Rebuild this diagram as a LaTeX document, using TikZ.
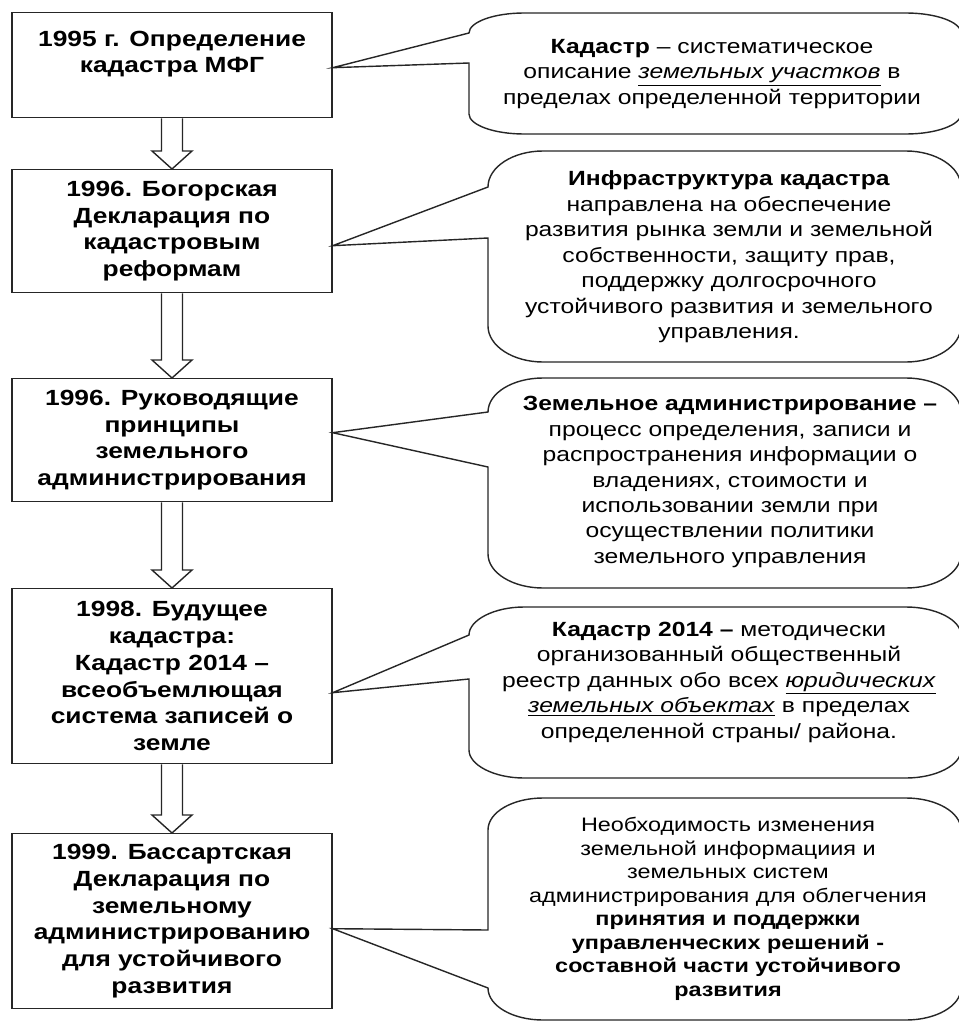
\documentclass[tikz,border=0pt]{standalone}
\usepackage{fontspec}
\setmainfont{Liberation Sans}[FakeStretch=1.2]
\usetikzlibrary{calc}

\tikzset{
  stage/.style={draw=black!85, line width=0.8pt, fill=white, minimum width=6.4cm,
    align=center, anchor=north, inner sep=2pt,
    font=\fontsize{12.5}{15.2}\selectfont\bfseries},
  bubble/.style={draw=black!85, line width=0.8pt, fill=white},
  note/.style={align=center, inner sep=0pt, font=\fontsize{11.7}{14.5}\selectfont},
  flow/.style={draw=black!85, line width=0.8pt, fill=white}
}

\begin{document}
\begin{tikzpicture}[x=0.02cm,y=-0.02cm]
\useasboundingbox (0,0) rectangle (959,1021);
\clip (0,0) rectangle (959,1021);

% stages
\node[stage, minimum height=2.1cm] (y1) at (172,12) {1995 г. Определение\\кадастра МФГ\\~};
\node[stage, minimum height=2.46cm] (y2) at (172,169) {1996. Богорская\\Декларация по\\кадастровым\\реформам};
\node[stage, minimum height=2.46cm] (y3) at (172,378) {1996. Руководящие\\принципы\\земельного\\администрирования};
\node[stage, minimum height=3.5cm] (y4) at (172,588) {1998. Будущее\\кадастра:\\Кадастр 2014 --\\всеобъемлющая\\система записей о\\земле};
\node[stage, minimum height=3.5cm] (y5) at (172,833) {1999. Бассартская\\Декларация по\\земельному\\администрированию\\для устойчивого\\развития};

% hollow arrows between stages
\foreach \a/\b in {y1/y2,y2/y3,y3/y4,y4/y5}
  \draw[flow] ($(\a.south)+(-10.5,0)$) -- ($(\b.north)+(-10.5,-18)$) -- ($(\b.north)+(-20,-18)$)
    -- (\b.north) -- ($(\b.north)+(20,-18)$) -- ($(\b.north)+(10.5,-18)$) -- ($(\a.south)+(10.5,0)$);

% callouts
\draw[bubble] (469,63) -- (469,114) .. controls (469,125) and (494,134) .. (524,134) -- (906,134)
  .. controls (936,134) and (961,125) .. (961,114) -- (961,33) .. controls (961,22) and (936,13) .. (906,13)
  -- (524,13) .. controls (494,13) and (469,22) .. (469,33) -- ($(y1.east)+(0,2.5)$) -- cycle;
\draw[bubble] (488,238) -- (488,326) .. controls (488,346) and (513,362) .. (543,362) -- (906,362)
  .. controls (936,362) and (961,346) .. (961,326) -- (961,187) .. controls (961,167) and (936,151) .. (906,151)
  -- (543,151) .. controls (513,151) and (488,167) .. (488,187) -- ($(y2.east)+(0,14.5)$) -- cycle;
\draw[bubble] (488,467) -- (488,554) .. controls (488,573) and (513,588) .. (543,588) -- (906,588)
  .. controls (936,588) and (961,573) .. (961,554) -- (961,412) .. controls (961,393) and (936,378) .. (906,378)
  -- (543,378) .. controls (513,378) and (488,393) .. (488,412) -- ($(y3.east)+(0,-7.5)$) -- cycle;
\draw[bubble] (469,679) -- (469,750) .. controls (469,765) and (494,778) .. (524,778) -- (906,778)
  .. controls (936,778) and (961,765) .. (961,750) -- (961,635) .. controls (961,620) and (936,607) .. (906,607)
  -- (524,607) .. controls (494,607) and (469,620) .. (469,635) -- ($(y4.east)+(0,16.5)$) -- cycle;
\draw[bubble] (488,930) -- (488,830) .. controls (488,812) and (513,798) .. (543,798) -- (906,798)
  .. controls (936,798) and (961,812) .. (961,830) -- (961,988) .. controls (961,1006) and (936,1020) .. (906,1020)
  -- (543,1020) .. controls (513,1020) and (488,1006) .. (488,988) -- ($(y5.east)+(0,7.5)$) -- cycle;

\node[note] (n1) at (712,74) {\textbf{Кадастр} -- систематическое\\описание \underline{\textit{земельных участков}} в\\пределах определенной территории};
\node[note] (n2) at (729,257) {\textbf{Инфраструктура кадастра}\\направлена на обеспечение\\развития рынка земли и земельной\\собственности, защиту прав,\\поддержку долгосрочного\\устойчивого развития и земельного\\управления.};
\node[note] (n3) at (730,482) {\textbf{Земельное администрирование --}\\процесс определения, записи и\\распространения информации о\\владениях, стоимости и\\использовании земли при\\осуществлении политики\\земельного управления};
\node[note] (n4) at (719,682) {\textbf{Кадастр 2014 --} методически\\организованный общественный\\реестр данных обо всех \underline{\textit{юридических}}\\\underline{\textit{земельных объектах}} в пределах\\определенной страны/ района.};
\node[note, font=\fontsize{11.1}{13.4}\selectfont] (n5) at (728,909) {Необходимость изменения\\земельной информациия и\\земельных систем\\администрирования для облегчения\\\textbf{принятия и поддержки}\\\textbf{управленческих решений -}\\\textbf{составной части устойчивого}\\\textbf{развития}};
\end{tikzpicture}
\end{document}
